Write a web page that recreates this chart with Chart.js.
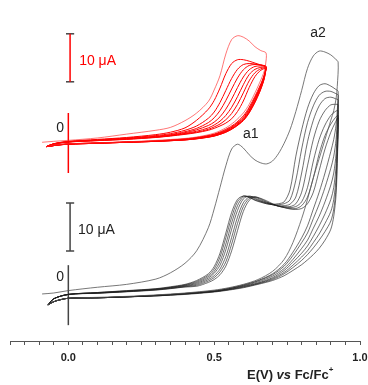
<!DOCTYPE html>
<html>
<head>
<meta charset="utf-8">
<script src="https://cdn.jsdelivr.net/npm/chart.js@4.4.1/dist/chart.umd.min.js"></script>
<style>
  html, body { margin: 0; padding: 0; background: #fff; }
  #wrap { width: 368px; height: 385px; }
</style>
</head>
<body>
<div id="wrap"><canvas id="cv" width="368" height="385"></canvas></div>
<script>
// Potenciales (V vs Fc/Fc+) de los barridos
const E_FWD_BLACK_1 = [-0.09, -0.05, 0, 0.1, 0.2, 0.3, 0.35, 0.4, 0.44, 0.48, 0.5, 0.52, 0.54, 0.56, 0.58, 0.6, 0.62, 0.64, 0.66, 0.68, 0.7, 0.72, 0.74, 0.76, 0.78, 0.8, 0.82, 0.84, 0.86, 0.88, 0.9, 0.915, 0.925];
const E_FWD_BLACK = [-0.07, -0.05, 0, 0.1, 0.2, 0.3, 0.35, 0.4, 0.44, 0.48, 0.5, 0.52, 0.54, 0.56, 0.58, 0.6, 0.62, 0.64, 0.66, 0.68, 0.7, 0.72, 0.74, 0.76, 0.78, 0.8, 0.82, 0.84, 0.86, 0.88, 0.9, 0.915, 0.925];
const E_REV_BLACK = [0.925, 0.922, 0.918, 0.91, 0.9, 0.88, 0.86, 0.84, 0.82, 0.8, 0.77, 0.74, 0.7, 0.65, 0.6, 0.55, 0.5, 0.4, 0.3, 0.2, 0.1, 0, -0.04, -0.06, -0.07];

const E_FWD_RED_1 = [-0.09, -0.05, 0, 0.1, 0.2, 0.3, 0.35, 0.4, 0.44, 0.48, 0.5, 0.52, 0.54, 0.56, 0.58, 0.6, 0.62, 0.64, 0.66, 0.678];
const E_FWD_RED = [-0.075, -0.05, 0, 0.1, 0.2, 0.3, 0.35, 0.4, 0.44, 0.48, 0.5, 0.52, 0.54, 0.56, 0.58, 0.6, 0.62, 0.64, 0.66, 0.678];
const E_REV_RED = [0.678, 0.676, 0.672, 0.665, 0.655, 0.64, 0.62, 0.6, 0.57, 0.54, 0.5, 0.45, 0.4, 0.3, 0.2, 0.1, 0, -0.04, -0.06, -0.075];

// Corrientes (uA) - serie negra, barrido directo
const B1F = [-0.2, 0.0, 0.5, 1.2, 1.8, 2.9, 4.2, 6.2, 8.8, 13.6, 17.5, 22, 26.5, 30, 31, 30.2, 28.8, 27.7, 27.1, 26.9, 27.5, 29, 31.2, 34, 37.8, 42.2, 46.8, 49.4, 50.4, 50.2, 49.6, 48.8, 48.1];
const B2F = [-2.5, -1.2, -0.3, 0.1, 0.5, 0.9, 1.3, 1.8, 2.6, 4.0, 5.5, 8.3, 12.5, 16.8, 19.5, 20.2, 19.9, 19.3, 18.9, 18.6, 18.5, 18.6, 19.0, 21.5, 28.5, 34, 38.5, 41.5, 43.2, 43.6, 43.1, 42.5, 42];
const B3F = [-2.5, -1.2, -0.3, 0.1, 0.45, 0.85, 1.2, 1.7, 2.4, 3.7, 5.0, 7.5, 11.5, 15.8, 19, 20.2, 20, 19.4, 19, 18.6, 18.4, 18.4, 18.6, 19.4, 23.5, 30, 35.5, 39, 41.2, 42, 42, 41.6, 41.2];
const B4F = [-2.5, -1.2, -0.3, 0.05, 0.4, 0.8, 1.15, 1.6, 2.2, 3.4, 4.5, 6.6, 10.2, 14.6, 18.2, 20, 20.1, 19.6, 19.1, 18.7, 18.4, 18.2, 18.2, 18.5, 20, 25, 31.5, 36, 39, 40.5, 40.8, 40.5, 40.2];
const B5F = [-2.5, -1.2, -0.3, 0.0, 0.35, 0.75, 1.1, 1.5, 2.0, 3.1, 4.1, 5.8, 9, 13.3, 17.2, 19.6, 20.2, 19.8, 19.2, 18.8, 18.4, 18.1, 18, 18, 18.6, 21, 26.5, 32, 35.8, 38, 39.2, 39.3, 39.2];
const B6F = [-2.5, -1.2, -0.3, 0.0, 0.3, 0.7, 1.0, 1.4, 1.8, 2.8, 3.6, 5, 7.6, 11.6, 15.8, 18.8, 20, 20, 19.4, 18.9, 18.5, 18.1, 17.9, 17.8, 18, 19, 22, 27.5, 32, 35, 37, 37.8, 38];
const B7F = [-2.5, -1.2, -0.3, -0.05, 0.3, 0.65, 0.95, 1.3, 1.6, 2.5, 3.2, 4.4, 6.5, 10.2, 14.5, 18, 19.7, 20, 19.6, 19, 18.5, 18.1, 17.8, 17.6, 17.6, 18.2, 20, 24, 29, 32.8, 35.2, 36.5, 37];
const B8F = [-2.5, -1.2, -0.3, -0.05, 0.25, 0.6, 0.9, 1.25, 1.4, 2.2, 2.8, 3.8, 5.6, 8.8, 13, 17, 19.3, 20, 19.7, 19.2, 18.6, 18.1, 17.8, 17.5, 17.4, 17.6, 18.6, 21, 25.5, 30, 33.5, 35.5, 36.5];

// Serie negra, barrido inverso
const B1R = [48.1, 43, 40.5, 38, 36, 32, 28, 24, 19.5, 15.5, 10.5, 7, 4.5, 2.8, 1.8, 1.1, 0.6, 0, -0.4, -0.7, -0.9, -1.1, -1.6, -2.1, -2.5];
const B2R = [42, 38, 35, 32, 29.5, 25, 21, 17.5, 14, 11.5, 8.5, 6, 4, 2.6, 1.7, 1.0, 0.5, -0.1, -0.5, -0.8, -1.0, -1.1, -1.6, -2.1, -2.5];
const B3R = [41.2, 36, 32, 28.5, 26, 22, 18.5, 15.5, 12.5, 10.5, 7.8, 5.6, 3.8, 2.5, 1.6, 0.9, 0.4, -0.1, -0.5, -0.8, -1.0, -1.1, -1.6, -2.1, -2.5];
const B4R = [40.2, 34, 29, 25, 22.5, 19, 16, 13.5, 11, 9.3, 7, 5.1, 3.5, 2.3, 1.5, 0.9, 0.4, -0.1, -0.5, -0.8, -1.0, -1.1, -1.6, -2.1, -2.5];
const B5R = [39.2, 32, 26.5, 22, 19.5, 16.5, 14, 11.8, 9.8, 8.3, 6.4, 4.7, 3.2, 2.1, 1.4, 0.8, 0.3, -0.2, -0.5, -0.8, -1.0, -1.1, -1.6, -2.1, -2.5];
const B6R = [38, 30, 24, 19.5, 17, 14.5, 12.3, 10.5, 8.8, 7.5, 5.8, 4.3, 3.0, 2.0, 1.3, 0.7, 0.3, -0.2, -0.6, -0.8, -1.0, -1.1, -1.6, -2.1, -2.5];
const B7R = [37, 28.5, 22, 17.5, 15, 12.8, 11, 9.4, 8, 6.8, 5.3, 4.0, 2.8, 1.9, 1.2, 0.7, 0.3, -0.2, -0.6, -0.8, -1.0, -1.1, -1.6, -2.1, -2.5];
const B8R = [36.5, 27, 20.5, 16, 13.3, 11, 9.3, 8, 6.9, 5.9, 4.7, 3.6, 2.6, 1.8, 1.1, 0.6, 0.2, -0.3, -0.6, -0.8, -1.0, -1.1, -1.6, -2.1, -2.5];

// Serie roja (desplazada hacia arriba), barrido directo
const R1F = [-0.1, 0.1, 0.3, 0.8, 1.6, 2.4, 3.0, 4.4, 6.0, 8.4, 10.8, 13.8, 18.3, 21.3, 22.1, 21.8, 21, 19.8, 19, 18.5];
const R2F = [-1.0, -0.4, 0.1, 0.5, 0.9, 1.5, 2.0, 2.9, 4.5, 6.8, 8.6, 11.2, 14.2, 16.3, 17.1, 17.1, 16.8, 16.4, 16, 15.6];
const R3F = [-1.0, -0.4, 0.05, 0.4, 0.8, 1.3, 1.7, 2.4, 3.3, 4.9, 6.2, 8.2, 10.7, 13.2, 15.1, 16.1, 16.3, 16.2, 16, 15.7];
const R4F = [-1.0, -0.45, 0, 0.35, 0.7, 1.15, 1.5, 2.1, 2.8, 4.0, 5.0, 6.5, 8.6, 11, 13.3, 15, 15.9, 16.1, 16, 15.7];
const R5F = [-1.0, -0.45, 0, 0.3, 0.65, 1.05, 1.4, 1.9, 2.5, 3.4, 4.1, 5.2, 6.8, 8.9, 11.3, 13.5, 15, 15.7, 15.8, 15.6];
const R6F = [-1.0, -0.45, 0, 0.3, 0.6, 1.0, 1.3, 1.75, 2.2, 2.9, 3.5, 4.3, 5.5, 7.2, 9.4, 11.9, 14, 15.1, 15.5, 15.5];
const R7F = [-1.0, -0.45, -0.05, 0.25, 0.55, 0.95, 1.25, 1.65, 2.0, 2.6, 3.1, 3.7, 4.6, 5.9, 7.8, 10.2, 12.7, 14.4, 15.2, 15.4];
const R8F = [-1.0, -0.45, -0.05, 0.25, 0.5, 0.9, 1.2, 1.55, 1.9, 2.4, 2.8, 3.3, 3.9, 4.8, 6.3, 8.5, 11.3, 13.6, 14.9, 15.3];

// Serie roja, barrido inverso
const R1R = [18.5, 16, 14.8, 13.6, 12.2, 10.2, 7.8, 6.0, 4.2, 2.9, 1.8, 1.1, 0.7, 0.3, 0, -0.2, -0.4, -0.6, -0.8, -1.0];
const R2R = [15.6, 15.0, 14.0, 12.8, 11.4, 9.5, 7.2, 5.4, 3.7, 2.6, 1.6, 1.0, 0.6, 0.2, -0.05, -0.25, -0.45, -0.65, -0.85, -1.0];
const R3R = [15.7, 15.0, 13.9, 12.6, 11.1, 9.2, 6.9, 5.1, 3.5, 2.4, 1.5, 0.9, 0.55, 0.15, -0.05, -0.25, -0.45, -0.65, -0.85, -1.0];
const R4R = [15.7, 14.9, 13.7, 12.4, 10.9, 8.9, 6.6, 4.9, 3.4, 2.3, 1.4, 0.85, 0.5, 0.15, -0.05, -0.25, -0.45, -0.65, -0.85, -1.0];
const R5R = [15.6, 14.8, 13.6, 12.2, 10.7, 8.7, 6.4, 4.7, 3.2, 2.2, 1.3, 0.8, 0.45, 0.1, -0.1, -0.3, -0.5, -0.7, -0.9, -1.0];
const R6R = [15.5, 14.7, 13.4, 12.0, 10.5, 8.5, 6.2, 4.6, 3.1, 2.1, 1.25, 0.75, 0.4, 0.1, -0.1, -0.3, -0.5, -0.7, -0.9, -1.0];
const R7R = [15.4, 14.6, 13.3, 11.9, 10.3, 8.3, 6.1, 4.5, 3.0, 2.0, 1.2, 0.7, 0.4, 0.1, -0.1, -0.3, -0.5, -0.7, -0.9, -1.0];
const R8R = [15.3, 14.5, 13.2, 11.8, 10.2, 8.2, 6.0, 4.4, 3.0, 2.0, 1.2, 0.7, 0.4, 0.1, -0.1, -0.3, -0.5, -0.7, -0.9, -1.0];

// Desplazamiento vertical de la serie roja (uA)
const RED_OFFSET = 31.5;

// Barras de escala y ejes de cero (E en V, I en uA)
const SCALE_BAR_E = 0.006;
const SCALE_BAR_RED = [12.5, 22.5];
const SCALE_BAR_BLACK = [8.75, 18.75];
const ZERO_LINE_RED = [-6.5, 6];
const ZERO_LINE_BLACK = [-6.7, 5.8];

const X_TICK_LABELS = ['0.0', '0.5', '1.0'];

function puntos(ef, iF, er, iR, off) {
    const out = [];
    ef.forEach((e, k) => out.push({ x: e, y: iF[k] + off }));
    er.forEach((e, k) => { if (k > 0) out.push({ x: e, y: iR[k] + off }); });
    return out;
}

function linea(data, color, width) {
    return {
        data: data,
        borderColor: color,
        borderWidth: width,
        pointRadius: 0,
        tension: 0.3,
        fill: false
    };
}

function segmento(x1, y1, x2, y2, color, width) {
    return {
        data: [{ x: x1, y: y1 }, { x: x2, y: y2 }],
        borderColor: color,
        borderWidth: width,
        pointRadius: 0,
        tension: 0,
        fill: false
    };
}

const negrosF = [B2F, B3F, B4F, B5F, B6F, B7F, B8F];
const negrosR = [B2R, B3R, B4R, B5R, B6R, B7R, B8R];
const rojosF = [R2F, R3F, R4F, R5F, R6F, R7F, R8F];
const rojosR = [R2R, R3R, R4R, R5R, R6R, R7R, R8R];

const datasets = [];
datasets.push(linea(puntos(E_FWD_BLACK_1, B1F, E_REV_BLACK, B1R, 0), '#555', 0.8));
negrosF.forEach((f, k) => datasets.push(linea(puntos(E_FWD_BLACK, f, E_REV_BLACK, negrosR[k], 0), 'rgba(30,30,30,0.8)', 0.8)));
datasets.push(linea(puntos(E_FWD_RED_1, R1F, E_REV_RED, R1R, RED_OFFSET), 'rgba(255,40,40,0.8)', 0.8));
rojosF.forEach((f, k) => datasets.push(linea(puntos(E_FWD_RED, f, E_REV_RED, rojosR[k], RED_OFFSET), '#ff0000', 1)));

// Ejes de cero y barras de 10 uA
datasets.push(segmento(0, ZERO_LINE_RED[0] + RED_OFFSET, 0, ZERO_LINE_RED[1] + RED_OFFSET, '#ff0000', 1.5));
datasets.push(segmento(0, ZERO_LINE_BLACK[0], 0, ZERO_LINE_BLACK[1], '#444', 1.5));
datasets.push(segmento(SCALE_BAR_E, SCALE_BAR_RED[0] + RED_OFFSET, SCALE_BAR_E, SCALE_BAR_RED[1] + RED_OFFSET, '#ff0000', 1.5));
datasets.push(segmento(SCALE_BAR_E, SCALE_BAR_BLACK[0], SCALE_BAR_E, SCALE_BAR_BLACK[1], '#444', 1.5));
[SCALE_BAR_RED[0] + RED_OFFSET, SCALE_BAR_RED[1] + RED_OFFSET, SCALE_BAR_BLACK[0], SCALE_BAR_BLACK[1]].forEach(y => {
    datasets.push(segmento(SCALE_BAR_E - 0.014, y, SCALE_BAR_E + 0.014, y, '#444', 1.5));
});

// Textos anclados a las escalas
const etiquetas = {
    id: 'etiquetas',
    afterDraw(chart) {
        const { ctx, scales: { x, y } } = chart;
        ctx.save();
        ctx.textBaseline = 'middle';
        ctx.textAlign = 'left';
        ctx.font = "14px 'Liberation Sans', Arial, sans-serif";
        ctx.fillStyle = '#ff0000';
        ctx.fillText('10 \u03bcA', x.getPixelForValue(0.037), y.getPixelForValue(16.9 + RED_OFFSET));
        ctx.fillStyle = '#222';
        ctx.fillText('10 \u03bcA', x.getPixelForValue(0.033), y.getPixelForValue(13.1));
        ctx.textAlign = 'center';
        ctx.fillText('0', x.getPixelForValue(-0.028), y.getPixelForValue(2.9 + RED_OFFSET));
        ctx.fillText('0', x.getPixelForValue(-0.028), y.getPixelForValue(3.3));
        ctx.textAlign = 'left';
        ctx.fillText('a1', x.getPixelForValue(0.599), y.getPixelForValue(33.1));
        ctx.fillText('a2', x.getPixelForValue(0.829), y.getPixelForValue(54.2));

        // Título del eje X con estilos mezclados
        const partes = [
            ['E(V) ', "bold 13px 'Liberation Sans', Arial, sans-serif", 0],
            ['vs', "italic bold 13px 'Liberation Sans', Arial, sans-serif", 0],
            [' Fc/Fc', "bold 13px 'Liberation Sans', Arial, sans-serif", 0],
            ['+', "bold 8px 'Liberation Sans', Arial, sans-serif", -5]
        ];
        let px = 247;
        const py = 375;
        ctx.fillStyle = '#222';
        partes.forEach(([t, f, dy]) => {
            ctx.font = f;
            ctx.fillText(t, px, py + dy);
            px += ctx.measureText(t).width;
        });
        ctx.restore();
    }
};

new Chart(document.getElementById('cv').getContext('2d'), {
    type: 'line',
    data: { datasets: datasets },
    options: {
        responsive: false,
        animation: false,
        layout: { padding: { left: 10, right: 8, top: 5, bottom: 18 } },
        plugins: { legend: { display: false }, tooltip: { enabled: false } },
        scales: {
            x: {
                type: 'linear',
                min: -0.2,
                max: 1.0,
                afterFit: function(scale) {
                    // altura fija del eje y sin margen extra a los lados
                    scale.height = 26;
                    scale.paddingLeft = 0;
                    scale.paddingRight = 0;
                },
                border: { display: true, color: '#555', width: 1 },
                grid: { display: true, drawOnChartArea: false, drawTicks: true, tickLength: 4, color: '#555' },
                ticks: {
                    stepSize: 0.05,
                    autoSkip: false,
                    maxRotation: 0,
                    padding: 6,
                    color: '#222',
                    font: { family: "'Liberation Sans', Arial, sans-serif", size: 11, weight: 'bold' },
                    callback: function(v) {
                        const k = Math.round(v * 2);
                        if (Math.abs(v * 2 - k) < 1e-6 && k >= 0 && k < X_TICK_LABELS.length) return X_TICK_LABELS[k];
                        return '';
                    }
                }
            },
            y: { type: 'linear', display: false, min: -10, max: 60 }
        }
    },
    plugins: [etiquetas]
});
</script>
</body>
</html>
